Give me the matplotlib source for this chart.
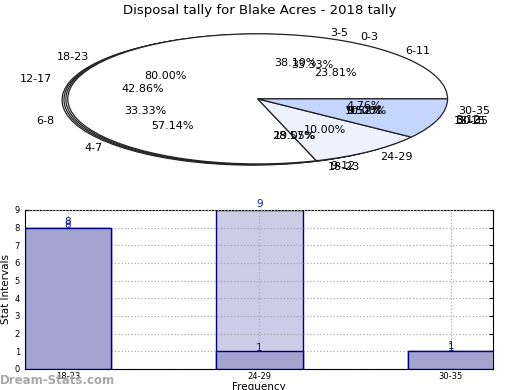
import matplotlib.pyplot as plt

title = 'Disposal tally for Blake Acres - 2018 tally'

# pie series (drawn on top of each other, last one on top)
pie_b_labels = ['6-11', '12-17', '18-23', '30-35']
pie_b_values = [5, 9, 6, 1]
pie_c_labels = ['3-5', '6-8', '9-12', '13-15']
pie_c_values = [8, 7, 4, 2]
pie_d_labels = ['0-3', '4-7', '8-12']
pie_d_values = [7, 12, 2]
pie_a_labels = ['18-23', '24-29', '30-35']
pie_a_values = [8, 1, 1]
pie_a_colors = ['white', '#eef2ff', '#c4d6ff']

# bar series
bar_categories = ['18-23', '24-29', '30-35']
back_values = [8, 9, 1]
front_values = [8, 1, 1]

fig = plt.figure(figsize=(5.2, 3.9), dpi=100)

# pie part
ax1 = fig.add_axes([0.039, 0.538, 0.913, 0.417])
wedge_style = dict(edgecolor='#222222', linewidth=0.9)
text_style = dict(fontsize=8)
for values, labels, off in [(pie_b_values, pie_b_labels, 0.03),
                            (pie_c_values, pie_c_labels, 0.02),
                            (pie_d_values, pie_d_labels, 0.01)]:
    ax1.pie(values, labels=labels, autopct='%1.2f%%', center=(-off, -off * 0.6),
            colors=['white'] * len(values), wedgeprops=wedge_style,
            textprops=text_style, frame=False)
ax1.pie(pie_a_values, labels=pie_a_labels, autopct='%1.2f%%',
        colors=pie_a_colors, wedgeprops=wedge_style, textprops=text_style,
        frame=False)
ax1.set_aspect('auto')
ax1.set_xlim(-1.25, 1.25)
ax1.set_ylim(-1.25, 1.25)
ax1.axis('off')

fig.text(0.5, 0.991, title, ha='center', va='top', fontsize=9.5)

# bar part
ax2 = fig.add_axes([0.048, 0.054, 0.9, 0.408])
x = range(len(bar_categories))
ax2.bar(x, back_values, width=0.45, color='#ccccE6', edgecolor='#000080', linewidth=1, zorder=2)
ax2.bar(x, front_values, width=0.45, color='#a3a3cf', edgecolor='#000080', linewidth=1, zorder=3)
for i in x:
    ax2.text(i, back_values[i] + 0.02, str(back_values[i]), ha='center', va='bottom',
             fontsize=7.5, color='#1a1a8c', zorder=5)
    ax2.text(i, front_values[i] - 0.12, str(front_values[i]), ha='center', va='bottom',
             fontsize=7.5, color='#1a1a8c', zorder=5)

ax2.set_xlim(-0.225, 2.22)
ax2.set_ylim(0, 9)
ax2.set_xticks(list(x))
ax2.set_xticklabels(bar_categories, fontsize=6)
ax2.set_yticks(range(10))
ax2.tick_params(axis='y', labelsize=6, direction='in', length=3, right=True)
ax2.tick_params(axis='x', direction='in', length=3, pad=2)
ax2.set_axisbelow(False)
ax2.grid(True, linestyle=':', color='#aaaaaa', linewidth=0.9, zorder=4)
ax2.set_ylabel('Stat Intervals', fontsize=7.5, labelpad=3)
ax2.set_xlabel('Frequency', fontsize=7.5, labelpad=1)

fig.text(0.0, 0.025, 'Dream-Stats.com', color='#a8a8a8', fontsize=8.5,
         fontweight='bold', ha='left', va='center')

fig.savefig('out.png', dpi=100)
